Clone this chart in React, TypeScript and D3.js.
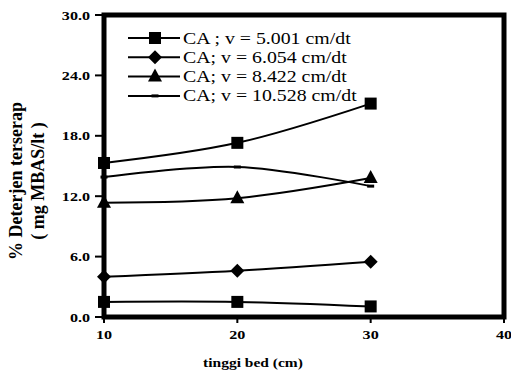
import React from "react";
import * as d3 from "d3";

const xValues = [10, 20, 30];
const seriesA = [15.3, 17.3, 21.2]; // CA ; v = 5.001 (square)
const seriesB = [4.0, 4.6, 5.5]; // CA; v = 6.054 (diamond)
const seriesC = [11.35, 11.8, 13.8]; // CA; v = 8.422 (triangle)
const seriesD = [13.9, 14.9, 13.0]; // CA; v = 10.528 (dash)
const seriesE = [1.5, 1.5, 1.05]; // unlabeled (square)
const legendLabels = [
  "CA ; v = 5.001 cm/dt",
  "CA; v = 6.054 cm/dt",
  "CA; v = 8.422 cm/dt",
  "CA; v = 10.528 cm/dt",
];
const yTicks = [0, 6, 12, 18, 24, 30];
const xTicks = [10, 20, 30, 40];

const W = 511;
const H = 373;
const left = 104;
const right = 504;
const top = 15;
const bottom = 317;
const SX = 1.24;

const serif = "Liberation Serif";

function Marker({ type, x, y }: { type: string; x: number; y: number }) {
  if (type === "square")
    return <rect x={x - 6} y={y - 6} width={12} height={12} fill="#000" />;
  if (type === "diamond")
    return (
      <path
        d={`M${x},${y - 7}L${x + 7},${y}L${x},${y + 7}L${x - 7},${y}Z`}
        fill="#000"
      />
    );
  if (type === "triangle")
    return (
      <path
        d={`M${x},${y - 8}L${x + 7},${y + 5}L${x - 7},${y + 5}Z`}
        fill="#000"
      />
    );
  return <rect x={x - 3.5} y={y - 1.5} width={7} height={3} fill="#000" />;
}

function SText(props: {
  x: number;
  y: number;
  size: number;
  bold?: boolean;
  anchor?: string;
  children: React.ReactNode;
}) {
  return (
    <text
      transform={`translate(${props.x},${props.y}) scale(${SX},1)`}
      textAnchor={props.anchor || "start"}
      style={{ fontFamily: serif, fontSize: props.size, fontWeight: props.bold ? "bold" : "normal" }}
    >
      {props.children}
    </text>
  );
}

export default function App() {
  const xs = d3.scaleLinear().domain([10, 40]).range([left, right]);
  const ys = d3.scaleLinear().domain([0, 30]).range([bottom, top]);
  const line = d3
    .line<number>()
    .x((_, i) => xs(xValues[i]))
    .y((d) => ys(d))
    .curve(d3.curveCatmullRom.alpha(0.5));

  const series = [
    { data: seriesA, type: "square" },
    { data: seriesB, type: "diamond" },
    { data: seriesC, type: "triangle" },
    { data: seriesD, type: "dash" },
    { data: seriesE, type: "square" },
  ];

  return (
    <svg width={W} height={H} style={{ position: "absolute", left: 0, top: 0 }}>
      <rect width={W} height={H} fill="#fff" />
      {series.map((s, si) => (
        <g key={si}>
          <path d={line(s.data) || ""} fill="none" stroke="#000" strokeWidth={2} />
          {s.data.map((v, i) => (
            <Marker key={i} type={s.type} x={xs(xValues[i])} y={ys(v)} />
          ))}
        </g>
      ))}
      <rect
        x={left}
        y={top}
        width={right - left}
        height={bottom - top}
        fill="none"
        stroke="#000"
        strokeWidth={5}
      />
      {yTicks.map((t) => (
        <g key={t}>
          <line x1={left - 9} x2={left} y1={ys(t)} y2={ys(t)} stroke="#000" strokeWidth={2} />
          <SText x={90} y={ys(t) + 4.5} size={13} bold anchor="end">
            {t.toFixed(1)}
          </SText>
        </g>
      ))}
      {xTicks.map((t) => (
        <g key={t}>
          <line x1={xs(t)} x2={xs(t)} y1={bottom} y2={bottom + 6} stroke="#000" strokeWidth={2} />
          <SText x={xs(t)} y={339} size={13} bold anchor="middle">
            {t}
          </SText>
        </g>
      ))}
      <SText x={253} y={367} size={12.5} bold anchor="middle">
        tinggi bed (cm)
      </SText>
      <g transform="translate(22,181) rotate(-90)">
        <text textAnchor="middle" style={{ fontFamily: serif, fontWeight: "bold", fontSize: 18 }}>
          {"%  Deterjen terserap"}
        </text>
        <text y={22} textAnchor="middle" style={{ fontFamily: serif, fontWeight: "bold", fontSize: 18 }}>
          {"( mg MBAS/lt )"}
        </text>
      </g>
      {legendLabels.map((lab, i) => {
        const y = 38 + i * 19.3;
        return (
          <g key={i}>
            <line x1={128} x2={180} y1={y} y2={y} stroke="#000" strokeWidth={2} />
            <Marker type={series[i].type} x={155} y={y} />
            <SText x={183} y={y + 5.5} size={16}>
              {lab}
            </SText>
          </g>
        );
      })}
    </svg>
  );
}
